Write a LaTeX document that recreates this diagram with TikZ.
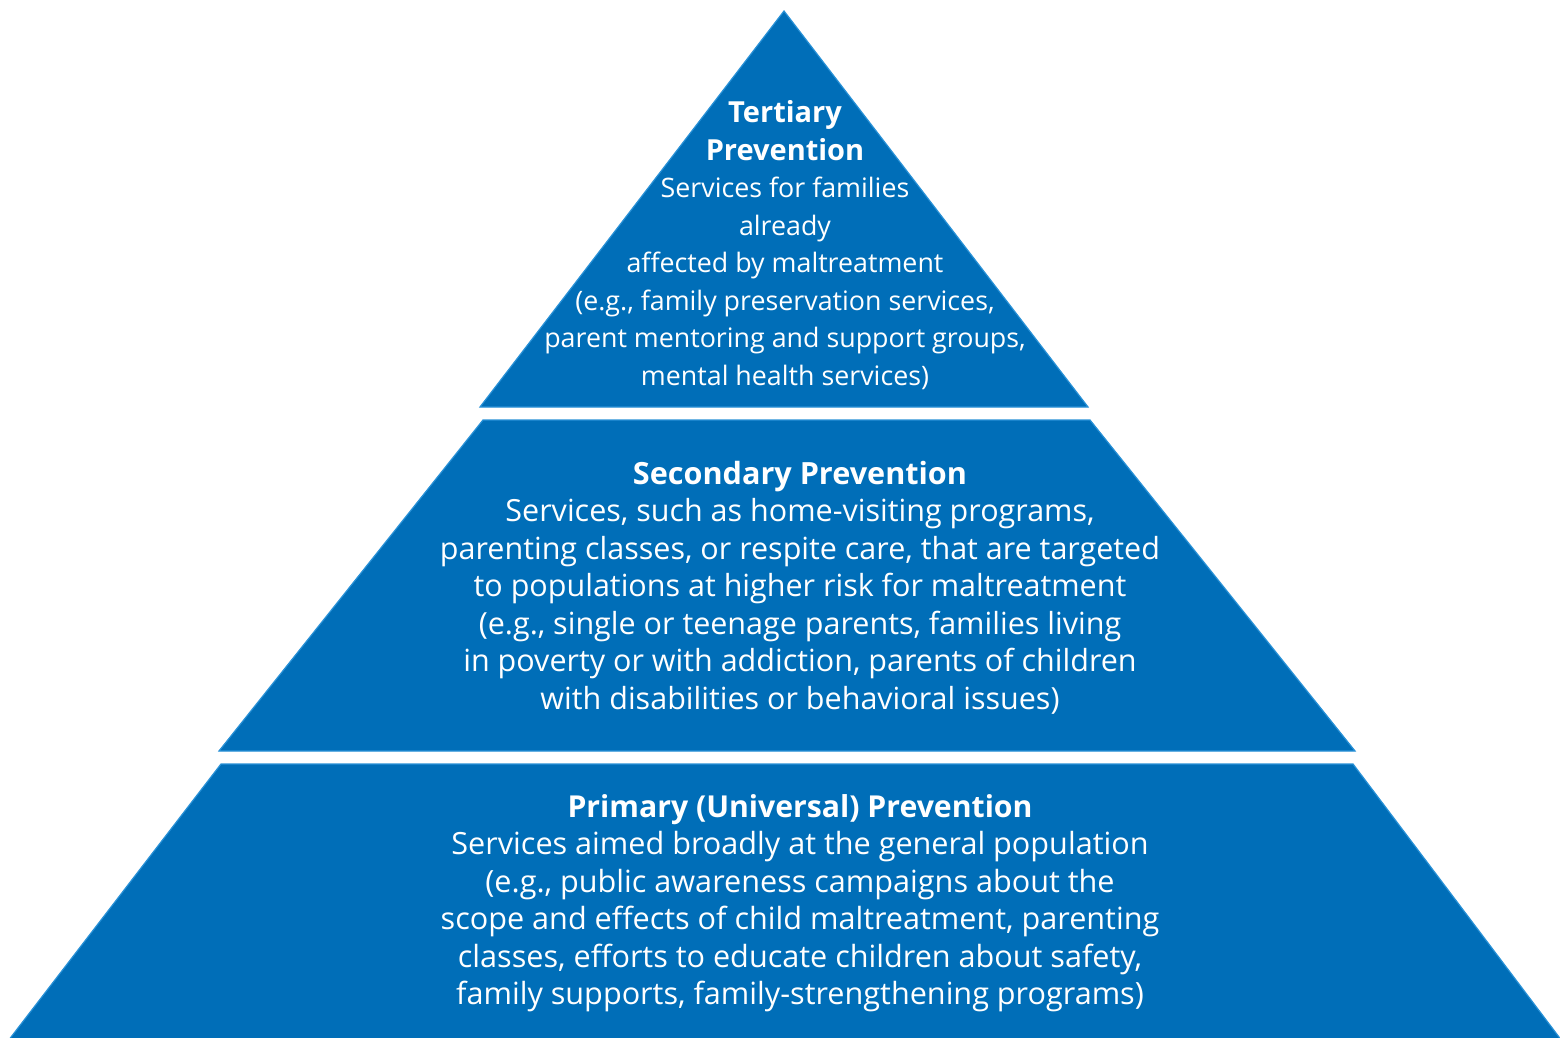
\documentclass[tikz,border=0pt]{standalone}
\usepackage{fontspec}
\setmainfont{Open Sans}[Ligatures=NoCommon]
\definecolor{pyrfill}{RGB}{0,110,184}
\definecolor{pyredge}{RGB}{40,145,215}
\newcommand{\ttlA}{\fontsize{29}{37.5}\selectfont\bfseries}
\newcommand{\ttlB}{\fontsize{30.6}{37.5}\selectfont\bfseries}
\newcommand{\ttlC}{\fontsize{30.2}{37.5}\selectfont\bfseries}
\begin{document}
\begin{tikzpicture}[x=1pt,y=-1pt,
  tier/.style={fill=pyrfill,draw=pyredge,line width=1.2pt,line join=miter},
  lbl/.style={text=white,align=center,inner sep=0pt}]
\useasboundingbox (0,0) rectangle (1560,1038);
\fill[white] (0,0) rectangle (1560,1038);
\begin{scope}
\clip (0,0) rectangle (1560,1038);
\draw[tier] (784,11) -- (1088,407) -- (480,407) -- cycle;
\draw[tier] (483,420) -- (1090,420) -- (1355,751) -- (219,751) -- cycle;
\draw[tier] (221,764) -- (1353,764) -- (1562,1041) -- (8,1041) -- cycle;
\end{scope}
\node[lbl,font=\fontsize{26.8}{37.5}\selectfont] (tert) at (785,245) {{\ttlA Tertiary}\\
  {\ttlA Prevention}\\
  Services for families\\ already\\ affected by maltreatment\\
  (e.g., family preservation services,\\ parent mentoring and support groups,\\
  mental health services)};
\node[lbl,font=\fontsize{30.5}{37.5}\selectfont] (sec) at (800,587.5) {{\ttlB Secondary Prevention}\\
  Services, such as home-visiting programs,\\
  parenting classes, or respite care, that are targeted\\
  to populations at higher risk for maltreatment\\
  (e.g., single or teenage parents, families living\\
  in poverty or with addiction, parents of children\\
  with disabilities or behavioral issues)};
\node[lbl,font=\fontsize{30.6}{37.5}\selectfont] (prim) at (800,903) {{\ttlC Primary (Universal) Prevention}\\
  Services aimed broadly at the general population\\
  (e.g., public awareness campaigns about the\\
  scope and effects of child maltreatment, parenting\\
  classes, efforts to educate children about safety,\\
  family supports, family-strengthening programs)};
\end{tikzpicture}
\end{document}
